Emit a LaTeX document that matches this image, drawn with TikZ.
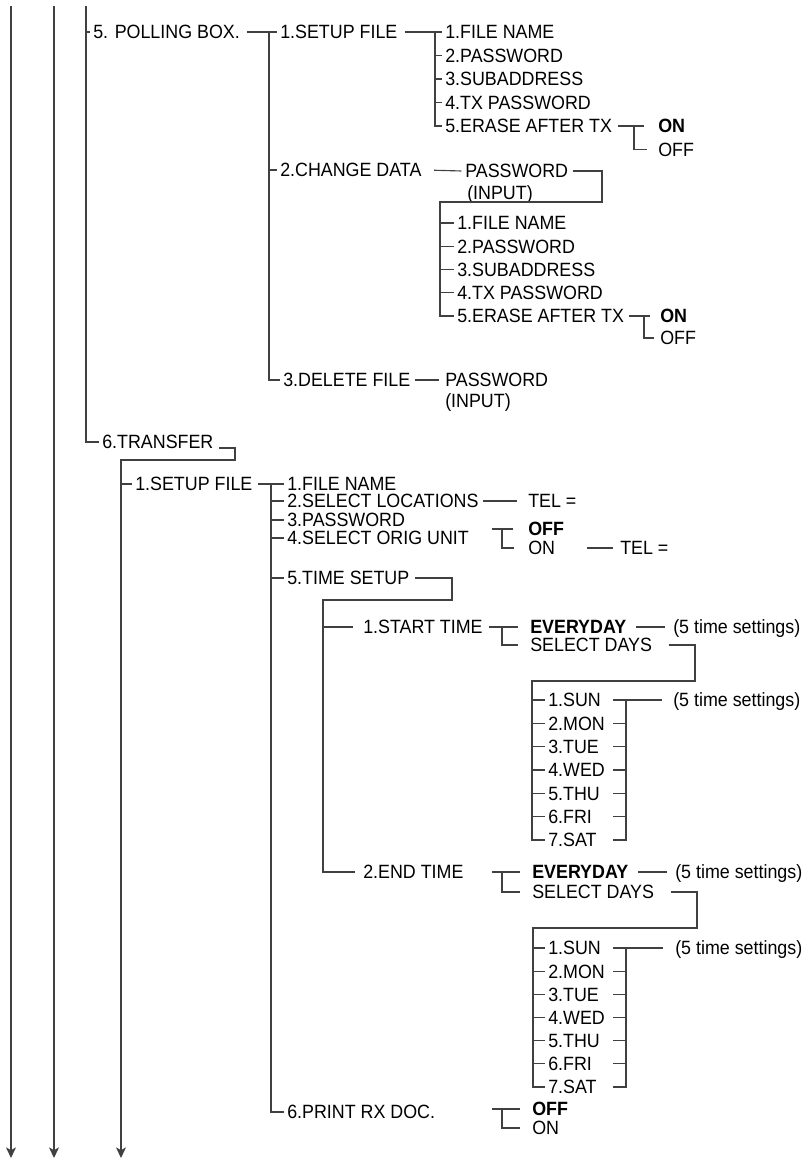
\documentclass[tikz,border=0pt]{standalone}
\usepackage{fontspec}
\setmainfont{Liberation Sans}[FakeStretch=0.93]
\usetikzlibrary{arrows.meta}
\begin{document}
\begin{tikzpicture}[x=0.75pt,y=-0.75pt,
  lbl/.style={anchor=west,inner xsep=2.25pt,inner ysep=0pt,text height=10.2pt,text depth=0pt,font=\fontsize{14.4}{17}\selectfont,text=black},
  bld/.style={lbl,font=\fontsize{14.4}{17}\selectfont\bfseries},
  ln/.style={draw=black!75,line width=0.85pt},
  arr/.style={ln,-{Stealth[length=8pt,width=7.5pt,inset=2.2pt]}},
]
\useasboundingbox (0,0) rectangle (812,1160);

% ---- main verticals
\coordinate (v1top) at (11,6); \coordinate (v1end) at (11,1158);
\coordinate (v2top) at (54,6); \coordinate (v2end) at (54,1158);
\coordinate (v3top) at (86,6);
\draw[arr] (v1top) -- (v1end);
\draw[arr] (v2top) -- (v2end);

% ---- 5. POLLING BOX
\node[lbl] (pb) at (90,32) {5. POLLING BOX.};
\node[lbl] (tr) at (99,442) {6.TRANSFER};
\draw[ln] (v3top) |- (tr.west);
\draw[ln] (pb.west -| v3top) -- (pb.west);

\coordinate (t1) at (269,32);
\node[lbl] (sfa) at (277,32) {1.SETUP FILE};
\node[lbl] (cd) at (277,170) {2.CHANGE DATA};
\node[lbl] (df) at (280,380) {3.DELETE FILE};
\draw[ln, shorten <=3pt] (pb.east) -- (sfa.west);
\draw[ln] (t1) |- (df.west);
\draw[ln] (cd.west -| t1) -- (cd.west);

% list 1
\coordinate (ta) at (435,32);
\node[lbl] (a1) at (442,32) {1.FILE NAME};
\node[lbl] (a2) at (442,55.5) {2.PASSWORD};
\node[lbl] (a3) at (442,79) {3.SUBADDRESS};
\node[lbl] (a4) at (442,102.5) {4.TX PASSWORD};
\node[lbl] (a5) at (442,126) {5.ERASE AFTER TX};
\draw[ln, shorten <=3pt] (sfa.east) -- (a1.west);
\draw[ln] (ta) |- (a5.west);
\foreach \i in {2,3,4} \draw[ln] (a\i.west -| ta) -- (a\i.west);
\node[bld] (on1) at (655,126) {ON};
\node[lbl] (off1) at (655,149.5) {OFF};
\coordinate (tb) at (634,126);
\draw[ln, shorten <=2pt, shorten >=8pt] (a5.east) -- (on1.west);
\draw[ln, shorten >=6pt] (tb) |- (off1.west);

% change data
\node[lbl] (pwa) at (462,171) {PASSWORD};
\node[lbl] (ina) at (464,193) {(INPUT)};
\draw[ln, shorten <=7pt, shorten >=0.5pt] (cd.east) -- (pwa.west);
\coordinate (ca) at (602,202); \coordinate (cb) at (440,202);
\node[lbl] (b1) at (454,223) {1.FILE NAME};
\node[lbl] (b2) at (454,246.2) {2.PASSWORD};
\node[lbl] (b3) at (454,269.4) {3.SUBADDRESS};
\node[lbl] (b4) at (454,292.6) {4.TX PASSWORD};
\node[lbl] (b5) at (454,316) {5.ERASE AFTER TX};
\draw[ln, shorten <=1pt] (pwa.east) -| (ca) -- (cb) |- (b5.west);
\foreach \i in {1,2,3,4} \draw[ln] (b\i.west -| cb) -- (b\i.west);
\node[bld] (on2) at (657,316) {ON};
\node[lbl] (off2) at (657,338) {OFF};
\coordinate (tc) at (644,316);
\draw[ln, shorten <=1.5pt, shorten >=5pt] (b5.east) -- (on2.west);
\draw[ln, shorten >=2pt] (tc) |- (off2.west);

% delete file
\node[lbl] (pwb) at (442,380) {PASSWORD};
\node[lbl] (inb) at (442,401) {(INPUT)};
\draw[ln, shorten <=1pt, shorten >=2pt] (df.east) -- (pwb.west);

% ---- 6. TRANSFER
\coordinate (k2) at (235,460); \coordinate (k3) at (121,460); \coordinate (v4end) at (121,1158);
\draw[arr] ([xshift=2pt,yshift=-4.5pt]tr.east) -| (k2) -- (k3) -- (v4end);

\node[lbl] (sfb) at (132,484) {1.SETUP FILE};
\draw[ln] (sfb.west -| k3) -- (sfb.west);
\coordinate (tt) at (271,484);
\node[lbl] (e1) at (284,484) {1.FILE NAME};
\node[lbl] (e2) at (284,501) {2.SELECT LOCATIONS};
\node[lbl] (e3) at (284,520) {3.PASSWORD};
\node[lbl] (e4) at (284,538) {4.SELECT ORIG UNIT};
\node[lbl] (e5) at (284,578) {5.TIME SETUP};
\node[lbl] (e6) at (284,1112) {6.PRINT RX DOC.};
\draw[ln, shorten <=2pt] (sfb.east) -- (e1.west);
\draw[ln] (tt) |- (e6.west);
\foreach \i in {2,...,5} \draw[ln] (e\i.west -| tt) -- (e\i.west);

% TEL =
\node[lbl] (tel1) at (525,501) {TEL =};
\draw[ln, shorten <=1pt, shorten >=6pt] (e2.east) -- (tel1.west);

% orig unit
\node[bld] (off3) at (525,529) {OFF};
\node[lbl] (on3) at (525,548) {ON};
\coordinate (ua) at (492,529); \coordinate (ub) at (502,529);
\draw[ln, shorten >=9pt] (ua) -- (off3.west);
\draw[ln, shorten >=8pt] (ub) |- (on3.west);
\coordinate (ot) at (587,548);
\node[lbl] (tel2) at (617,548) {TEL =};
\draw[ln, shorten >=3pt] (ot) -- (tel2.west);

% time setup
\coordinate (ts1) at (452,600); \coordinate (ts2) at (323,600);
\node[lbl] (st) at (360,627) {1.START TIME};
\node[lbl] (et) at (360,872) {2.END TIME};
\draw[ln, shorten <=2pt, shorten >=4pt] (e5.east) -| (ts1) -- (ts2) |- (et.west);
\draw[ln, shorten >=5pt] (st.west -| ts2) -- (st.west);

% start time
\coordinate (tv) at (502,0);
\node[bld] (ev1) at (527,627) {EVERYDAY};
\node[lbl] (sd1) at (527,645) {SELECT DAYS};
\draw[ln, shorten <=2pt, shorten >=7pt] (st.east) -- (ev1.west);
\draw[ln, shorten >=7pt] (ev1.west -| tv) |- (sd1.west);
\node[lbl] (ts5a) at (670,627) {(5 time settings)};
\draw[ln, shorten <=5pt, shorten >=4pt] (ev1.east) -- (ts5a.west);
\coordinate (sa) at (695,681); \coordinate (sb) at (532,681);
\node[lbl] (d1) at (545,700) {1.SUN};
\node[lbl] (d2) at (545,723.3) {2.MON};
\node[lbl] (d3) at (545,746.7) {3.TUE};
\node[lbl] (d4) at (545,770) {4.WED};
\node[lbl] (d5) at (545,793.3) {5.THU};
\node[lbl] (d6) at (545,816.7) {6.FRI};
\node[lbl] (d7) at (545,840) {7.SAT};
\draw[ln, shorten <=10pt] (sd1.east) -| (sa) -- (sb) |- (d7.west);
\foreach \i in {1,...,6} \draw[ln] (d\i.west -| sb) -- (d\i.west);
\coordinate (rs) at (613,0); \coordinate (rt) at (626,0);
\node[lbl] (ts5b) at (670,700) {(5 time settings)};
\draw[ln, shorten >=6pt] (d1.west -| rs) -- (ts5b.west);
\foreach \i in {2,...,6} \draw[ln] (d\i.west -| rs) -- (d\i.west -| rt);
\draw[ln] (d7.west -| rs) -| (d1.west -| rt);

% end time
\coordinate (eta) at (492,872);
\node[bld] (ev2) at (529,872) {EVERYDAY};
\node[lbl] (sd2) at (529,892) {SELECT DAYS};
\draw[ln, shorten >=7pt] (eta) -- (ev2.west);
\draw[ln, shorten >=7pt] (ev2.west -| tv) |- (sd2.west);
\node[lbl] (ts5c) at (672,872) {(5 time settings)};
\draw[ln, shorten <=5pt, shorten >=4pt] (ev2.east) -- (ts5c.west);
\coordinate (sc) at (697,928); \coordinate (sdd) at (533,928);
\node[lbl] (f1) at (545,948) {1.SUN};
\node[lbl] (f2) at (545,971.2) {2.MON};
\node[lbl] (f3) at (545,994.3) {3.TUE};
\node[lbl] (f4) at (545,1017.5) {4.WED};
\node[lbl] (f5) at (545,1040.7) {5.THU};
\node[lbl] (f6) at (545,1063.8) {6.FRI};
\node[lbl] (f7) at (545,1087) {7.SAT};
\draw[ln, shorten <=10pt] (sd2.east) -| (sc) -- (sdd) |- (f7.west);
\foreach \i in {1,...,6} \draw[ln] (f\i.west -| sdd) -- (f\i.west);
\node[lbl] (ts5d) at (672,948) {(5 time settings)};
\draw[ln, shorten >=7pt] (f1.west -| rs) -- (ts5d.west);
\foreach \i in {2,...,6} \draw[ln] (f\i.west -| rs) -- (f\i.west -| rt);
\draw[ln] (f7.west -| rs) -| (f1.west -| rt);

% print rx doc
\coordinate (pra) at (492,1109);
\node[bld] (off4) at (529,1109) {OFF};
\node[lbl] (on4) at (529,1128) {ON};
\draw[ln, shorten >=7pt] (pra) -- (off4.west);
\draw[ln, shorten >=7pt] (off4.west -| tv) |- (on4.west);
\end{tikzpicture}
\end{document}
